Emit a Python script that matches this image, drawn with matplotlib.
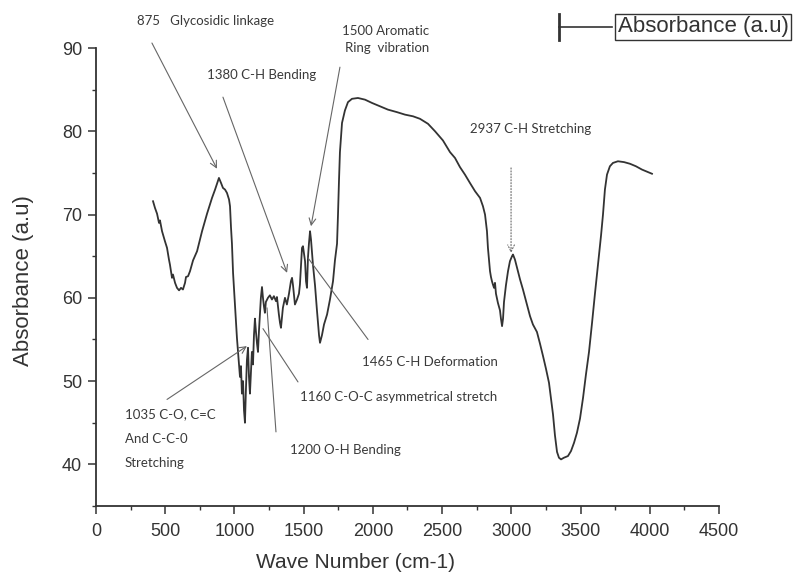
import matplotlib
matplotlib.use("Agg")
import matplotlib.pyplot as plt
from matplotlib.lines import Line2D
from matplotlib.ticker import MultipleLocator

# FTIR spectrum (wave number in cm-1, absorbance in a.u)
wave_number = [
    412, 426, 441, 455, 462, 477, 498, 513, 527, 534, 549, 556, 571, 585, 600,
    614, 628, 643, 650, 665, 679, 701, 730, 751, 766, 787, 802, 823, 838, 860,
    874, 888, 903, 917, 932, 946, 961, 968, 975, 982, 990, 997, 1004, 1011,
    1018, 1026, 1033, 1040, 1047, 1054, 1062, 1069, 1076, 1083, 1090, 1098,
    1105, 1112, 1119, 1126, 1134, 1141, 1148, 1155, 1163, 1170, 1177, 1184,
    1191, 1199, 1206, 1213, 1220, 1227, 1242, 1256, 1271, 1285, 1300, 1307,
    1321, 1329, 1336, 1350, 1365, 1379, 1394, 1408, 1416, 1423, 1437, 1452,
    1466, 1473, 1488, 1495, 1510, 1517, 1524, 1531, 1538, 1546, 1553, 1567,
    1582, 1596, 1611, 1618, 1632, 1647, 1669, 1690, 1712, 1726, 1741, 1748,
    1755, 1762, 1777, 1798, 1820, 1849, 1892, 1943, 1994, 2051, 2109, 2174,
    2232, 2290, 2340, 2398, 2449, 2506, 2557, 2593, 2629, 2665, 2701, 2738,
    2774, 2795, 2810, 2824, 2831, 2839, 2846, 2853, 2860, 2867, 2875, 2882,
    2889, 2903, 2918, 2925, 2933, 2940, 2947, 2961, 2976, 2990, 3005, 3012,
    3026, 3048, 3063, 3084, 3113, 3135, 3156, 3185, 3207, 3229, 3250, 3272,
    3286, 3301, 3315, 3330, 3344, 3359, 3380, 3409, 3431, 3453, 3474, 3496,
    3518, 3539, 3561, 3583, 3604, 3626, 3648, 3662, 3676, 3691, 3712, 3734,
    3770, 3814, 3857, 3900, 3944, 3987, 4016,
]
absorbance = [
    71.6, 70.8, 70.1, 69.0, 69.3, 68.0, 66.8, 66.0, 64.6, 64.0, 62.4, 62.8,
    61.8, 61.2, 60.9, 61.2, 61.0, 61.8, 62.5, 62.6, 63.2, 64.5, 65.6, 67.0,
    68.0, 69.2, 70.1, 71.2, 72.0, 73.0, 73.7, 74.4, 73.8, 73.2, 73.0, 72.6,
    71.8, 71.0, 68.5, 66.5, 63.0, 61.0, 59.2, 57.0, 55.2, 53.5, 52.0, 50.5,
    51.8, 48.5, 50.0, 46.5, 45.0, 49.0, 52.5, 54.0, 50.5, 48.5, 51.0, 53.5,
    52.0, 55.5, 57.5, 56.0, 54.5, 53.5, 56.0, 58.0, 60.0, 61.3, 60.0, 59.0,
    58.2, 59.5, 60.0, 60.3, 59.8, 60.2, 59.6, 60.1, 58.0, 57.0, 56.4, 58.8,
    60.0, 59.2, 60.5, 62.0, 62.4, 61.5, 59.2, 59.8, 60.5, 61.6, 66.0, 66.2,
    64.4, 62.0, 61.2, 64.8, 66.5, 68.0, 67.0, 64.0, 61.5, 58.5, 55.5, 54.6,
    55.5, 56.8, 58.0, 59.8, 62.0, 64.5, 66.5, 70.0, 74.0, 77.5, 81.0, 82.5,
    83.5, 83.9, 84.0, 83.8, 83.4, 83.0, 82.6, 82.3, 82.0, 81.8, 81.5, 80.9,
    80.0, 78.9, 77.5, 76.8, 75.7, 74.8, 73.8, 72.8, 72.0, 71.0, 70.0, 68.0,
    66.0, 64.5, 63.2, 62.5, 62.0, 61.6, 61.2, 61.8, 60.5, 59.4, 58.5, 57.5,
    56.6, 57.5, 59.5, 61.5, 63.2, 64.4, 65.0, 65.2, 64.6, 63.2, 62.2, 61.0,
    59.2, 57.8, 56.8, 55.9, 54.5, 53.0, 51.5, 49.8, 48.0, 46.0, 43.5, 41.5,
    40.8, 40.6, 40.8, 41.0, 41.6, 42.6, 43.8, 45.5, 48.0, 50.8, 53.5, 57.0,
    60.5, 64.0, 67.5, 70.0, 73.0, 74.8, 75.8, 76.2, 76.4, 76.3, 76.1, 75.8,
    75.4, 75.1, 74.9,
]

# band assignments: (text, x, y) in data units
band_labels = [
    ("875   Glycosidic linkage", 296, 93.3),
    ("1500 Aromatic", 1777, 92.1),
    ("Ring  vibration", 1798, 90.0),
    ("1380 C-H Bending", 802, 86.7),
    ("2937 C-H Stretching", 2701, 80.3),
    ("1465 C-H Deformation", 1921, 52.3),
    ("1160 C-O-C asymmetrical stretch", 1473, 48.1),
    ("1200 O-H Bending", 1401, 41.7),
    ("1035 C-O, C=C", 209, 46.0),
    ("And C-C-0", 209, 43.1),
    ("Stretching", 209, 40.2),
]
# pointer lines: (start, end, arrow style, line style)
band_pointers = [
    ((404, 90.6), (874, 75.5), "->", "-"),
    ((1762, 87.7), (1553, 68.6), "->", "-"),
    ((917, 84.1), (1380, 63.0), "->", "-"),
    ((2998, 75.6), (2998, 65.4), "->", ":"),
    ((1531, 64.8), (1965, 55.0), "-", "-"),
    ((1206, 56.3), (1459, 49.9), "-", "-"),
    ((1235, 58.8), (1300, 43.9), "-", "-"),
    ((513, 47.8), (1090, 54.2), "->", "-"),
]

x_ticks = [0, 500, 1000, 1500, 2000, 2500, 3000, 3500, 4000, 4500]
y_ticks = [40, 50, 60, 70, 80, 90]

plt.rcParams["font.family"] = ["Liberation Sans", "DejaVu Sans"]
ink = "#333333"

fig = plt.figure(figsize=(7.98, 5.73), dpi=100)
ax = fig.add_axes([0.1203, 0.1169, 0.7807, 0.7993])

ax.plot(wave_number, absorbance, color=ink, lw=1.3)

ax.set_xlim(0, 4500)
ax.set_ylim(35, 90)
ax.set_xticks(x_ticks)
ax.set_yticks(y_ticks)
ax.xaxis.set_minor_locator(MultipleLocator(250))
ax.yaxis.set_minor_locator(MultipleLocator(5))
ax.tick_params(which="major", direction="out", length=6, width=1.1,
               labelsize=13, colors=ink, pad=4)
ax.tick_params(which="minor", direction="out", length=3, width=1.0, colors=ink)
ax.tick_params(axis="x", which="major", pad=6)

for side in ("top", "right"):
    ax.spines[side].set_visible(False)
for side in ("left", "bottom"):
    ax.spines[side].set_color(ink)
    ax.spines[side].set_linewidth(1.3)

ax.set_xlabel("Wave Number (cm-1)", fontsize=15, color=ink)
ax.set_ylabel("Absorbance (a.u)", fontsize=16, color=ink)
ax.xaxis.set_label_coords(0.417, -0.124)
ax.yaxis.set_label_coords(-0.117, 0.493)
ax.xaxis.label.set_va("center")
ax.yaxis.label.set_va("center")

for text, tx, ty in band_labels:
    ax.text(tx, ty, text, fontsize=9.5, family=["Lato", "DejaVu Sans"],
            color="#3a3a3a", ha="left", va="center", clip_on=False)

for start, end, style, ls in band_pointers:
    ax.annotate("", xy=end, xytext=start, annotation_clip=False,
                arrowprops=dict(arrowstyle=style, color="#666666", lw=0.8,
                                linestyle=ls, shrinkA=0, shrinkB=0,
                                mutation_scale=12))

# legend drawn by hand: sample line outside, boxed caption
fig.add_artist(Line2D([0.700, 0.767], [0.953, 0.953], color=ink, lw=1.2,
                      transform=fig.transFigure))
fig.add_artist(Line2D([0.700, 0.700], [0.931, 0.975], color=ink, lw=2.0,
                      transform=fig.transFigure))
fig.text(0.774, 0.953, "Absorbance (a.u)", fontsize=16, color=ink,
         ha="left", va="center",
         bbox=dict(boxstyle="square,pad=0.12", facecolor="white",
                   edgecolor=ink, lw=1.0))

fig.savefig("out.png", dpi=100)
